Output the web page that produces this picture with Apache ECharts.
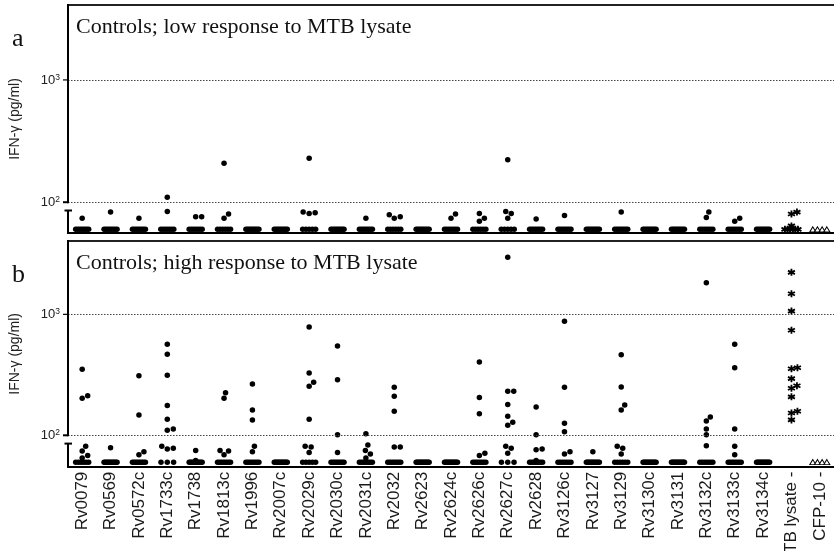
<!DOCTYPE html>
<html><head><meta charset="utf-8">
<script src="https://cdn.jsdelivr.net/npm/echarts@6/dist/echarts.min.js"></script>
<style>html,body{margin:0;padding:0;background:#fff}#c{width:834px;height:551px}</style>
</head><body><div id="c"></div>
<script>
// ---------------- data ----------------
const categories = ['Rv0079','Rv0569','Rv0572c','Rv1733c','Rv1738','Rv1813c','Rv1996','Rv2007c','Rv2029c','Rv2030c','Rv2031c','Rv2032','Rv2623','Rv2624c','Rv2626c','Rv2627c','Rv2628','Rv3126c','Rv3127','Rv3129','Rv3130c','Rv3131','Rv3132c','Rv3133c','Rv3134c','MTB lysate -','CFP-10 -'];

// panel a: controls with low response to MTB lysate (values above the floor)
const lowAbove = [
  [74],[83],[74],[110,84],[76,76],[208,80,74],[],[],[229,82,81,83],[],[74],[76,74,79],[],[80,74],[74,81,70],[222,81,84,74],[73],[78],[],[83],[],[],[83,75],[74,70],[],[83,80,64],[]
];
// number of subjects sitting at the floor value, panel a
const lowFloorCount = [8,8,8,7,7,6,9,9,5,9,8,6,9,7,6,5,8,8,9,8,9,9,7,7,9,6,4];

// panel b: controls with high response to MTB lysate (values above the floor)
const highAbove = [
  [351,212,202,81,74,68,65],[79],[310,147,73,69],[565,467,313,176,136,110,113,78,77,81],[75,62],
  [202,225,74,69,75],[266,162,134,81,73],[],[785,327,274,254,136,80,72,81],[547,288,101,72],
  [103,83,75,70,65],[249,210,158,80,80],[],[],[404,205,151,71,68],
  [2958,231,231,180,144,128,121,78,81,71],[171,101,77,76,62],[875,249,126,107,73,70],[73],[464,251,178,162,78,81,70],
  [],[],[1824,142,131,113,101,82],[565,362,113,81,69],[],
  [2224,1479,1064,738,362,355,294,257,245,208,158,153,134],[]
];
const highFloorCount = [6,12,9,3,11,8,8,13,5,9,8,8,13,13,8,3,8,7,12,6,13,13,7,8,13,0,4];

const floorValue = 60;
const yTicks = [100, 1000];
const panelTitles = ['Controls; low response to MTB lysate', 'Controls; high response to MTB lysate'];
const panelLetters = ['a', 'b'];
const yName = 'IFN-\u03b3 (pg/ml)';

// ---------------- layout ----------------
const W = 834, H = 551;
const gridLeft = 68, gridRight = 0;
const panels = [
  {top: 5,   height: 228,   min: 56, max: 4100, above: lowAbove,  floor: lowFloorCount},
  {top: 241, height: 225.7, min: 55, max: 4040, above: highAbove, floor: highFloorCount}
];
const band = (W - gridLeft - gridRight) / categories.length;
const SANS = "'Liberation Sans', Arial, sans-serif";
const SERIF = "'Liberation Serif', 'Times New Roman', serif";
const ASTER = 'path://M5 0L5 10M0.67 2.5L9.33 7.5M0.67 7.5L9.33 2.5';

// horizontal spreading of points within a category (beeswarm-style)
function layoutCategory(above, floorCount, p, cat) {
  const pxPerDec = p.height / (Math.log10(p.max) - Math.log10(p.min));
  const ypx = v => Math.log10(v) * pxPerDec;
  const out = [];
  if (floorCount > 0) {
    const wide = cat.startsWith('CFP') ? 14 : 13;
    const sp = floorCount > 1 ? Math.min(6.3, wide / (floorCount - 1)) : 0;
    for (let j = 0; j < floorCount; j++) out.push({v: floorValue, dx: (j - (floorCount - 1) / 2) * sp});
  }
  const placed = [];
  const sorted = above.slice().sort((a, b) => a - b);
  for (const v of sorted) {
    const y = ypx(v);
    let best = 0;
    outer:
    for (let s = 0; s <= 40; s++) {
      const cands = s === 0 ? [0] : [s * 0.5, -s * 0.5];
      for (const dx of cands) {
        if (placed.every(q => Math.hypot(q.dx - dx, q.y - y) >= 5.8)) { best = dx; break outer; }
      }
    }
    placed.push({v, dx: best, y});
    out.push({v, dx: best});
  }
  return out;
}

const grids = [], xAxes = [], yAxes = [], series = [];
panels.forEach((p, pi) => {
  grids.push({left: gridLeft, right: gridRight, top: p.top, height: p.height, containLabel: false, outerBoundsMode: 'none'});
  // category axis (bottom, labels)
  xAxes.push({
    type: 'category', gridIndex: pi, data: categories, position: 'bottom', boundaryGap: true,
    axisLine: {show: true, onZero: false, lineStyle: {color: '#000', width: 2}},
    axisTick: {show: false},
    axisLabel: pi === 1 ? {show: true, interval: 0, rotate: 90, fontSize: 17, fontFamily: SANS, color: '#1a1a1a', margin: 5, hideOverlap: false} : {show: false},
    splitLine: {show: false}
  });
  // value axis for point placement (top border)
  xAxes.push({
    type: 'value', gridIndex: pi, min: -0.5, max: categories.length - 0.5, position: 'top',
    axisLine: {show: true, onZero: false, lineStyle: {color: '#222', width: 2}},
    axisTick: {show: false}, axisLabel: {show: false}, splitLine: {show: false}
  });
  yAxes.push({
    type: 'log', logBase: 10, gridIndex: pi, min: p.min, max: p.max,
    axisLine: {show: false},
    axisTick: {show: false},
    axisLabel: {
      show: true, customValues: yTicks, margin: 8,
      formatter: v => '{b|10}{s|' + Math.round(Math.log10(v)) + '}',
      rich: {
        b: {fontSize: 13, fontFamily: SANS, color: '#222', lineHeight: 14},
        s: {fontSize: 8.5, fontFamily: SANS, color: '#222', lineHeight: 8, verticalAlign: 'top'}
      }
    },
    splitLine: {show: false},
    name: yName, nameLocation: 'middle', nameGap: 46,
    nameTextStyle: {fontSize: 14, fontFamily: SANS, color: '#222'}
  });

  const dots = [], asters = [], tris = [];
  categories.forEach((c, ci) => {
    const pts = layoutCategory(p.above[ci], p.floor[ci], p, c);
    pts.forEach(pt => {
      const d = [ci + pt.dx / band, pt.v];
      if (c.startsWith('MTB')) asters.push(d);
      else if (c.startsWith('CFP')) tris.push(d);
      else dots.push(d);
    });
  });
  series.push({
    type: 'scatter', xAxisIndex: pi * 2 + 1, yAxisIndex: pi, data: dots,
    symbol: 'circle', symbolSize: 5.5, itemStyle: {color: '#000', opacity: 1}, silent: true,
    markLine: {
      silent: true, symbol: ['none', 'none'], label: {show: false}, animation: false,
      lineStyle: {type: [1.5, 1.5], color: '#444', width: 1},
      data: yTicks.map(t => ({yAxis: t}))
    }
  });
  series.push({
    type: 'scatter', xAxisIndex: pi * 2 + 1, yAxisIndex: pi, data: asters,
    symbol: ASTER, symbolSize: 7, itemStyle: {color: '#000', borderColor: '#000', borderWidth: 1.8, opacity: 1}, silent: true
  });
  series.push({
    type: 'scatter', xAxisIndex: pi * 2 + 1, yAxisIndex: pi, data: tris,
    symbol: 'triangle', symbolSize: [6, 5], itemStyle: {color: '#fff', borderColor: '#000', borderWidth: 1, opacity: 1}, silent: true
  });
});

const chart = echarts.init(document.getElementById('c'), null, {renderer: 'canvas'});
chart.setOption({
  animation: false, backgroundColor: '#fff',
  grid: grids, xAxis: xAxes, yAxis: yAxes, series: series
});

// left axis with break, ticks, titles and panel letters
const gfx = [];
panels.forEach((p, pi) => {
  const x0 = chart.convertToPixel({xAxisIndex: pi * 2 + 1}, -0.5);
  const y100 = chart.convertToPixel({yAxisIndex: pi}, 100);
  const yTop = p.top, yBot = p.top + p.height;
  const yBreak = y100 + 8.3;
  const ls = {stroke: '#000', lineWidth: 2};
  gfx.push({type: 'line', shape: {x1: x0, y1: yTop - 1, x2: x0, y2: y100 + 1}, style: ls, silent: true, z: 10});
  gfx.push({type: 'line', shape: {x1: x0, y1: yBreak, x2: x0, y2: yBot + 1}, style: ls, silent: true, z: 10});
  gfx.push({type: 'line', shape: {x1: x0 - 3.5, y1: yBreak, x2: x0 + 4, y2: yBreak}, style: ls, silent: true, z: 10});
  yTicks.forEach((t, ti) => {
    const yt = chart.convertToPixel({yAxisIndex: pi}, t);
    gfx.push({type: 'line', shape: {x1: x0 - 5, y1: yt, x2: x0, y2: yt},
      style: {stroke: '#000', lineWidth: t === 100 ? 2 : 1.2}, silent: true, z: 10});
  });
  gfx.push({type: 'text', x: x0 + 8, y: yTop + 22, silent: true, z: 10,
    style: {text: panelTitles[pi], font: '22px ' + SERIF, fill: '#111', align: 'left', verticalAlign: 'middle'}});
  gfx.push({type: 'text', x: 12, y: yTop + 34, silent: true, z: 10,
    style: {text: panelLetters[pi], font: '26px ' + SERIF, fill: '#111', align: 'left', verticalAlign: 'middle'}});
});
chart.setOption({graphic: gfx});
</script></body></html>
